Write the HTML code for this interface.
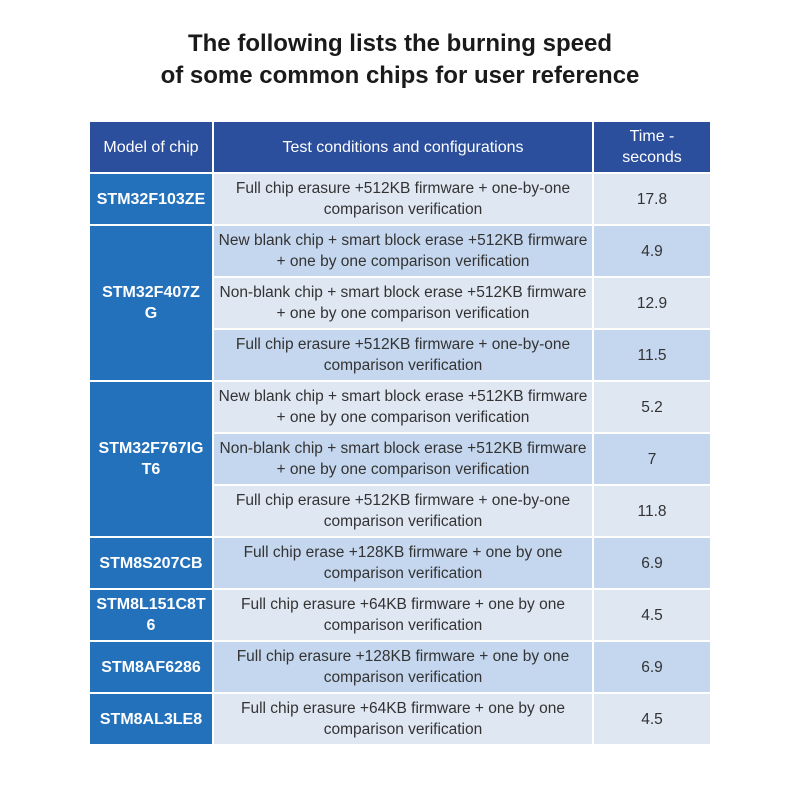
<!DOCTYPE html>
<html><head><meta charset="utf-8"><style>
body{margin:0;width:800px;height:800px;background:#fff;font-family:"Liberation Sans",sans-serif;position:relative;overflow:hidden}
h1{position:absolute;top:28px;left:0;width:800px;margin:0;text-align:center;font-size:24px;line-height:32px;font-weight:bold;color:#1a1a1a}
table{position:absolute;left:88px;top:120px;border-collapse:collapse;table-layout:fixed;width:622px}
td,th{border:2px solid #fff;text-align:center;vertical-align:middle;font-size:15.5px;line-height:21px;padding:0 4px;height:50px;color:#333}
th{background:#2b4f9c;color:#fff;font-weight:normal;font-size:16px}
td.m{background:#2471bb;color:#fff;font-weight:bold;font-size:16px}
tr.l td{background:#dfe7f3}tr.d td{background:#c5d7ee}
tr td.m{background:#2471bb}
</style></head><body>
<h1>The following lists the burning speed<br>of some common chips for user reference</h1>
<table>
<colgroup><col style="width:124px"><col style="width:380px"><col style="width:118px"></colgroup>
<tr style="height:52px"><th>Model of chip</th><th>Test conditions and configurations</th><th>Time -<br>seconds</th></tr>
<tr class="l"><td class="m">STM32F103ZE</td><td>Full chip erasure +512KB firmware + one-by-one comparison verification</td><td>17.8</td></tr>
<tr class="d"><td class="m" rowspan="3">STM32F407Z<br>G</td><td>New blank chip + smart block erase +512KB firmware + one by one comparison verification</td><td>4.9</td></tr>
<tr class="l"><td>Non-blank chip + smart block erase +512KB firmware + one by one comparison verification</td><td>12.9</td></tr>
<tr class="d"><td>Full chip erasure +512KB firmware + one-by-one comparison verification</td><td>11.5</td></tr>
<tr class="l"><td class="m" rowspan="3">STM32F767IG<br>T6</td><td>New blank chip + smart block erase +512KB firmware + one by one comparison verification</td><td>5.2</td></tr>
<tr class="d"><td>Non-blank chip + smart block erase +512KB firmware + one by one comparison verification</td><td>7</td></tr>
<tr class="l"><td>Full chip erasure +512KB firmware + one-by-one comparison verification</td><td>11.8</td></tr>
<tr class="d"><td class="m">STM8S207CB</td><td>Full chip erase +128KB firmware + one by one comparison verification</td><td>6.9</td></tr>
<tr class="l"><td class="m">STM8L151C8T<br>6</td><td>Full chip erasure +64KB firmware + one by one comparison verification</td><td>4.5</td></tr>
<tr class="d"><td class="m">STM8AF6286</td><td>Full chip erasure +128KB firmware + one by one comparison verification</td><td>6.9</td></tr>
<tr class="l"><td class="m">STM8AL3LE8</td><td>Full chip erasure +64KB firmware + one by one comparison verification</td><td>4.5</td></tr>
</table>
</body></html>
